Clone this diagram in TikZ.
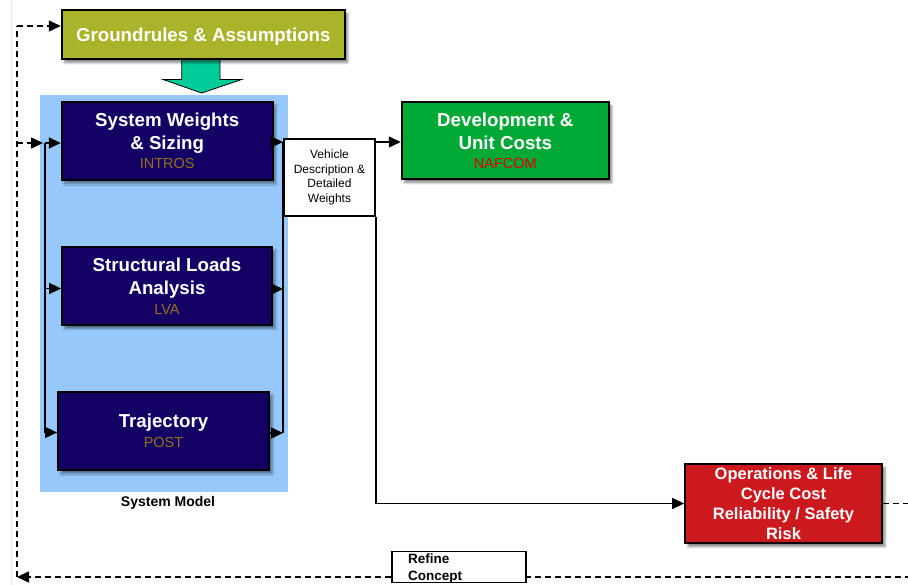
\documentclass[tikz,border=0pt]{standalone}
\usepackage{fontspec}
\setmainfont{Liberation Sans}
\usetikzlibrary{arrows.meta,shadows.blur}

\definecolor{gaolive}{RGB}{169,180,42}
\definecolor{flowteal}{RGB}{0,204,153}
\definecolor{smblue}{RGB}{150,200,252}
\definecolor{procnavy}{RGB}{20,0,100}
\definecolor{toolbrown}{RGB}{150,110,30}
\definecolor{costgreen}{RGB}{0,168,54}
\definecolor{toolred}{RGB}{230,0,0}
\definecolor{opsred}{RGB}{204,25,30}

\newcommand\boxtitle{\bfseries\fontsize{18.7}{23}\selectfont}
\newcommand\toolname{\mdseries\fontsize{14.5}{17}\selectfont}

\begin{document}
\begin{tikzpicture}[x=1pt,y=-1pt,
  conn/.style={line width=1.6pt, draw=black},
  arr/.style={conn, -{Triangle[length=12pt,width=11pt]}},
  loopline/.style={conn, dash pattern=on 6pt off 4pt},
  looparr/.style={loopline, -{Triangle[length=12pt,width=11pt]}},
  shadowed/.style={blur shadow={shadow xshift=3pt, shadow yshift=-3.5pt,
      shadow blur steps=6, shadow opacity=45}},
  proc/.style={rectangle, draw=black, line width=1.8pt, inner sep=0pt,
      align=center, text=white, font=\boxtitle, shadowed},
]
\useasboundingbox (0,0) rectangle (908,585);
\clip (0,0) rectangle (908,585);

% page edge
\draw[gray!18, line width=1pt] (11,0) -- (11,585);

% system model background
\node[fill=smblue, minimum width=248pt, minimum height=397pt, inner sep=0pt]
  (sm) at (164,293.5) {};
\node[font=\bfseries\fontsize{14}{16}\selectfont] (smlabel) at (168,503) {System Model};

% flow-down arrow from groundrules into the system model
\draw[fill=flowteal, line width=0.8pt]
  (181.7,59) -- (220,59) -- (220,79.5) -- (241.7,79.5) -- (201.7,93)
  -- (163,79.5) -- (181.7,79.5) -- cycle;

% process boxes
\node[proc, fill=gaolive, minimum width=283.3pt, minimum height=49.3pt, text depth=0pt]
  (gr) at (203.3,34.7) {Groundrules \& Assumptions};

\node[proc, fill=procnavy, minimum width=211pt, minimum height=78.3pt]
  (sw) at (167.2,140.8)
  {System Weights\\\& Sizing\\[-4pt]{\toolname\color{toolbrown}INTROS}};

\node[proc, fill=procnavy, minimum width=210pt, minimum height=78.5pt]
  (sl) at (167,286)
  {Structural Loads\\Analysis\\[-3pt]{\toolname\color{toolbrown}LVA}};

\node[proc, fill=procnavy, minimum width=211pt, minimum height=78pt]
  (tr) at (163.5,431)
  {Trajectory\\[-3pt]{\toolname\color{toolbrown}POST}};

\node[proc, fill=costgreen, minimum width=207.3pt, minimum height=77pt]
  (dev) at (505.3,140.8)
  {Development \&\\Unit Costs\\[-4pt]{\toolname\color{toolred}NAFCOM}};

\node[proc, fill=opsred, minimum width=197pt, minimum height=79.5pt,
      font=\bfseries\fontsize{16.5}{20}\selectfont]
  (ops) at (783.5,503.5)
  {Operations \& Life\\Cycle Cost\\Reliability / Safety\\Risk};

\node[rectangle, draw=black, line width=1.4pt, fill=white, inner sep=0pt,
      minimum width=91pt, minimum height=77pt, align=center,
      font=\fontsize{12}{14.8}\selectfont]
  (vd) at (329.5,177.5) {Vehicle\\Description \&\\Detailed\\Weights};

% bus coordinates
\coordinate (l1) at (45,143);
\coordinate (l2) at (45,288.5);
\coordinate (l3) at (45,432.5);
\coordinate (r1) at (283,142);
\coordinate (r2) at (283,289);
\coordinate (r3) at (283,433);

% input bus
\draw[conn] (l1) -- (l3);
\draw[arr] (l1) -- (l1 -| sw.west);
\draw[arr] (l2) -- (l2 -| sl.west);
\draw[arr] (l3) -- (l3 -| tr.west);

% output bus
\draw[conn] (r1) -- (r3);
\draw[arr] (sw.east |- r1) -- (r1);
\draw[arr] (sl.east |- r2) -- (r2);
\draw[arr] (tr.east |- r3) -- (r3);

% results to cost and operations
\draw[arr] (vd.east |- r1) -- (dev.west |- r1);
\draw[arr] (vd.south east) |- (ops.west);

% iteration loop
\coordinate (loopR) at (915,503.5);
\coordinate (loopBL) at (17,577);
\coordinate (loopTL) at (17,26);
\draw[looparr] (ops.east) -- (loopR) |- (loopBL);
\draw[loopline] (loopBL) -- (loopTL);
\draw[looparr] (loopTL) -- (loopTL -| gr.west);
\draw[looparr, shorten >=2pt] (loopBL |- l1) -- (l1);

\node[rectangle, draw=black, line width=1.5pt, fill=white, inner sep=0pt,
      minimum width=134pt, minimum height=31pt] (rc) at (459,567) {};
\node[anchor=north west, inner sep=0pt, align=left,
      font=\bfseries\fontsize{13.5}{17.5}\selectfont]
  (rctext) at (408,553.5) {Refine\\Concept};
\end{tikzpicture}
\end{document}
